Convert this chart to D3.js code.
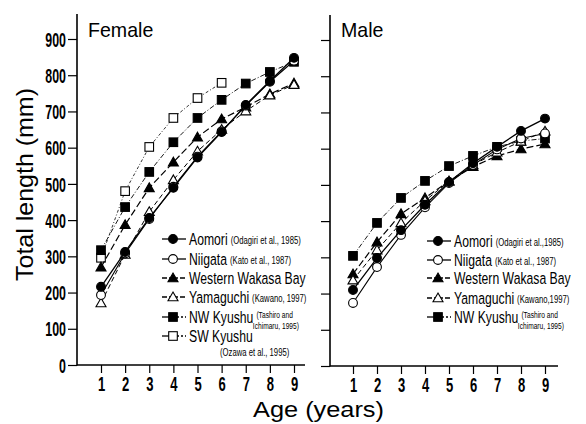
<!DOCTYPE html>
<html>
<head>
<meta charset="utf-8">
<script src="https://cdn.jsdelivr.net/npm/d3@7/dist/d3.min.js"></script>
<style>
  html, body { margin: 0; padding: 0; background: #fff; }
  svg { display: block; }
  text { font-family: "Liberation Sans", "Noto Sans", sans-serif; fill: #000; }
</style>
</head>
<body>
<div id="chart"></div>
<script>
// Ages (years) on the x axis
const ages = [1, 2, 3, 4, 5, 6, 7, 8, 9];
const yTicks = [0, 100, 200, 300, 400, 500, 600, 700, 800, 900];

// Female mean total length (mm) by age
const femaleAomori   = [216, 312, 406, 489, 573, 643, 718, 784, 848];
const femaleNiigata  = [193, 308, 403, 492, 575, 645, 716, 782, 840];
const femaleWakasa   = [270, 387, 489, 560, 629, 679, 712, 748, 778];
const femaleYamaguchi= [171, 305, 423, 511, 590, 650, 701, 745, 774];
const femaleNWKyushu = [317, 436, 533, 615, 682, 732, 777, 809, 837];
const femaleSWKyushu = [296, 480, 602, 682, 737, 779];

// Male mean total length (mm) by age
const maleAomori    = [210, 298, 375, 445, 508, 560, 605, 649, 683];
const maleNiigata   = [174, 273, 362, 438, 505, 555, 598, 628, 642];
const maleWakasa    = [254, 342, 420, 464, 510, 550, 580, 599, 613];
const maleYamaguchi = [237, 320, 395, 456, 510, 555, 590, 620, 648];
const maleNWKyushu  = [304, 395, 464, 511, 552, 580, 605, 621, 628];

// Series styling (marker shape, fill, line dash)
const styles = {
  aomori:    { shape: "circle",   fill: "#000", dash: null,       w: 1.3 },
  niigata:   { shape: "circle",   fill: "#fff", dash: null,       w: 1.1 },
  wakasa:    { shape: "triangle", fill: "#000", dash: "7,3",      w: 1.2 },
  yamaguchi: { shape: "triangle", fill: "#fff", dash: "5,3",      w: 1.0 },
  nwkyushu:  { shape: "square",   fill: "#000", dash: "5,2,1,2",  w: 0.9 },
  swkyushu:  { shape: "square",   fill: "#fff", dash: "3,2,1,2",  w: 0.8 }
};

const femaleSeries = [
  { key: "swkyushu",  values: femaleSWKyushu },
  { key: "nwkyushu",  values: femaleNWKyushu },
  { key: "wakasa",    values: femaleWakasa },
  { key: "yamaguchi", values: femaleYamaguchi },
  { key: "niigata",   values: femaleNiigata },
  { key: "aomori",    values: femaleAomori }
];
const maleSeries = [
  { key: "nwkyushu",  values: maleNWKyushu },
  { key: "wakasa",    values: maleWakasa },
  { key: "yamaguchi", values: maleYamaguchi },
  { key: "niigata",   values: maleNiigata },
  { key: "aomori",    values: maleAomori }
];

// Legend entries: name, citation (one or two lines)
const femaleLegend = [
  { key: "aomori",    name: "Aomori",             cite: ["(Odagiri et al., 1985)"] },
  { key: "niigata",   name: "Niigata",            cite: ["(Kato et al., 1987)"] },
  { key: "wakasa",    name: "Western Wakasa Bay", cite: [] },
  { key: "yamaguchi", name: "Yamaguchi",          cite: ["(Kawano, 1997)"] },
  { key: "nwkyushu",  name: "NW Kyushu",          cite: ["(Tashiro and", "Ichimaru, 1995)"] },
  { key: "swkyushu",  name: "SW Kyushu",          cite: ["(Ozawa et al., 1995)"], below: true }
];
const maleLegend = [
  { key: "aomori",    name: "Aomori",             cite: ["(Odagiri et al.,1985)"] },
  { key: "niigata",   name: "Niigata",            cite: ["(Kato et al., 1987)"] },
  { key: "wakasa",    name: "Western Wakasa Bay", cite: [] },
  { key: "yamaguchi", name: "Yamaguchi",          cite: ["(Kawano,1997)"] },
  { key: "nwkyushu",  name: "NW Kyushu",          cite: ["(Tashiro and", "Ichimaru, 1995)"] }
];

const W = 586, H = 424;
const svg = d3.select("#chart").append("svg").attr("width", W).attr("height", H);

// Horizontally compressed text, drawn at (x, y) baseline
function ctext(parent, x, y, str, size, sx, anchor, weight) {
  const g = parent.append("g").attr("transform", `translate(${x},${y}) scale(${sx},1)`);
  const t = g.append("text")
    .attr("font-size", size)
    .attr("font-weight", weight || "normal")
    .attr("text-anchor", anchor || "start")
    .text(str);
  return t.node().getComputedTextLength() * sx;
}

function drawMarker(g, shape, fill, cx, cy) {
  if (shape === "circle") {
    g.append("circle").attr("cx", cx).attr("cy", cy).attr("r", 4.4)
      .attr("fill", fill).attr("stroke", "#000").attr("stroke-width", 1.1);
  } else if (shape === "square") {
    g.append("rect").attr("x", cx - 4.3).attr("y", cy - 4.3).attr("width", 8.6).attr("height", 8.6)
      .attr("fill", fill).attr("stroke", "#000").attr("stroke-width", 1.1);
  } else {
    const s = 5;
    g.append("path")
      .attr("d", `M${cx},${cy - s}L${cx + s},${cy + s * 0.75}L${cx - s},${cy + s * 0.75}Z`)
      .attr("fill", fill).attr("stroke", "#000").attr("stroke-width", 1.1);
  }
}

function panel(opts) {
  const g = svg.append("g");
  const x = d3.scaleLinear().domain([1, 9]).range(opts.xRange);
  const y = d3.scaleLinear().domain([0, 900]).range([opts.y0, opts.y0 - 326]);

  // Axis lines
  g.append("line").attr("x1", opts.axisX).attr("x2", opts.axisX)
    .attr("y1", opts.yTop).attr("y2", opts.y0 + 0.5)
    .attr("stroke", "#000").attr("stroke-width", 1.6);
  g.append("line").attr("x1", opts.axisX).attr("x2", opts.xEnd)
    .attr("y1", opts.y0).attr("y2", opts.y0)
    .attr("stroke", "#000").attr("stroke-width", 1.6);

  // Y axis ticks
  const ya = g.append("g").attr("transform", `translate(${opts.axisX},0)`)
    .call(d3.axisLeft(y).tickValues(yTicks).tickSize(9).tickSizeOuter(0)
      .tickFormat(opts.yLabels ? d3.format("d") : () => ""));
  ya.select(".domain").remove();
  ya.selectAll(".tick line").attr("stroke", "#000").attr("stroke-width", 1.2);
  const sxy = 0.62;
  ya.selectAll(".tick text")
    .attr("font-family", "Liberation Sans, sans-serif")
    .attr("font-size", 20).attr("font-weight", "bold").attr("fill", "#000")
    .attr("x", -11 / sxy).attr("dy", "0.36em")
    .attr("transform", `scale(${sxy},1)`);

  // X axis ticks
  const xa = g.append("g").attr("transform", `translate(0,${opts.y0})`)
    .call(d3.axisBottom(x).tickValues(ages).tickSize(8).tickSizeOuter(0).tickFormat(d3.format("d")));
  xa.select(".domain").remove();
  xa.selectAll(".tick line").attr("stroke", "#000").attr("stroke-width", 1.2);
  xa.selectAll(".tick text")
    .attr("font-family", "Liberation Sans, sans-serif")
    .attr("font-size", 21).attr("font-weight", "bold").attr("fill", "#000")
    .attr("y", 11).attr("dy", "0.72em")
    .attr("transform", "scale(0.62,1)");

  // Title
  ctext(g, opts.titleX, 37, opts.title, 20, 0.98, "start", "normal");

  // Series lines and markers
  const line = d3.line().x((d, i) => x(ages[i])).y(d => y(d));
  opts.series.forEach(s => {
    const st = styles[s.key];
    g.append("path").datum(s.values).attr("d", line)
      .attr("fill", "none").attr("stroke", "#000")
      .attr("stroke-width", st.w)
      .attr("stroke-dasharray", st.dash);
    s.values.forEach((v, i) => drawMarker(g, st.shape, st.fill, x(ages[i]), y(v)));
  });

  // Legend
  const lg = g.append("g");
  opts.legend.forEach((e, i) => {
    const st = styles[e.key];
    const ry = opts.legendY[i];
    const lx = opts.legendX;
    const mx = lx + 11;
    const leftDash = (st.shape === "triangle") ? "5,2" : null;
    lg.append("line").attr("x1", lx).attr("x2", mx).attr("y1", ry).attr("y2", ry)
      .attr("stroke", "#000").attr("stroke-width", 1.3).attr("stroke-dasharray", leftDash);
    const rightDash = st.shape === "square" ? "2,2" : (st.shape === "triangle" ? "5,2" : null);
    lg.append("line").attr("x1", mx).attr("x2", lx + 24).attr("y1", ry).attr("y2", ry)
      .attr("stroke", "#000").attr("stroke-width", 1.3).attr("stroke-dasharray", rightDash);
    drawMarker(lg, st.shape, st.fill, mx, ry);
    const tx = lx + 27;
    const wName = ctext(lg, tx, ry + 6, e.name, 16.5, 0.74, "start", "normal");
    if (e.cite.length) {
      if (e.below) {
        ctext(lg, tx + 31, ry + 20, e.cite[0], 11, 0.7, "start", "normal");
      } else if (e.cite.length > 1) {
        const cw = ctext(lg, tx + wName + 3, ry + 1, e.cite[0], 9.5, 0.7, "start", "normal");
        ctext(lg, tx + wName + 3 + cw + 6, ry + 12, e.cite[1], 9.5, 0.7, "end", "normal");
      } else {
        ctext(lg, tx + wName + 3, ry + 5, e.cite[0], 11, 0.7, "start", "normal");
      }
    }
  });
}

panel({
  title: "Female", titleX: 88,
  xRange: [101, 294], axisX: 77, xEnd: 305, y0: 365, yTop: 14, yLabels: true,
  series: femaleSeries, legend: femaleLegend,
  legendX: 162, legendY: [239, 259, 278, 297, 317, 336]
});
panel({
  title: "Male", titleX: 341,
  xRange: [353, 545], axisX: 330, xEnd: 558, y0: 366, yTop: 15, yLabels: false,
  series: maleSeries, legend: maleLegend,
  legendX: 427, legendY: [241, 260, 278, 298, 317]
});

// Axis titles
svg.append("text")
  .attr("transform", "translate(33,281) rotate(-90)")
  .attr("font-size", 24)
  .attr("textLength", 193).attr("lengthAdjust", "spacingAndGlyphs")
  .text("Total length (mm)");
svg.append("text")
  .attr("x", 253).attr("y", 417)
  .attr("font-size", 22)
  .attr("textLength", 131).attr("lengthAdjust", "spacingAndGlyphs")
  .text("Age (years)");
</script>
</body>
</html>
